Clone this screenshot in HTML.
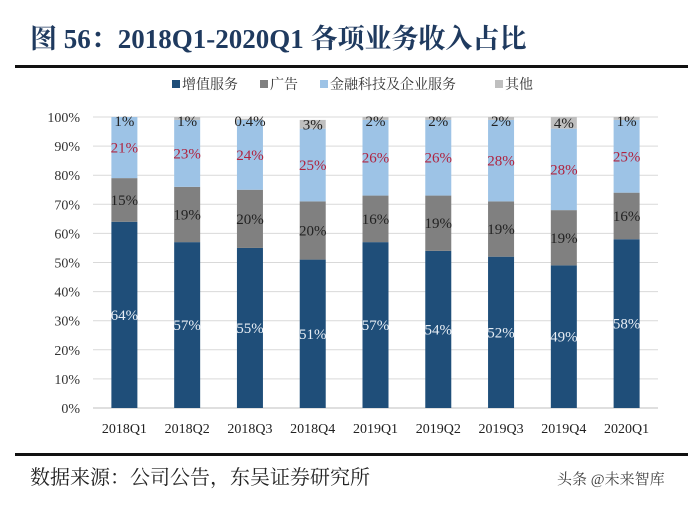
<!DOCTYPE html>
<html><head><meta charset="utf-8">
<style>
body{margin:0;background:#fff;width:700px;height:503px;overflow:hidden;font-family:"Liberation Serif","Noto Serif CJK SC",serif;}
svg text{font-family:"Liberation Serif","Noto Serif CJK SC",serif;}
</style></head>
<body>
<svg id="c" width="700" height="503" xmlns="http://www.w3.org/2000/svg">
<text x="30" y="48" font-size="27" font-weight="bold" fill="#1f3a5f">图 56：2018Q1-2020Q1 各项业务收入占比</text>
<rect x="15" y="65" width="673" height="3" fill="#111"/>
<g id="legend" font-size="14" fill="#333">
<rect x="172" y="80" width="8" height="8" fill="#1f4e79"/><text x="182" y="89">增值服务</text>
<rect x="260" y="80" width="8" height="8" fill="#808080"/><text x="270" y="89">广告</text>
<rect x="320" y="80" width="8" height="8" fill="#9dc3e6"/><text x="330" y="89">金融科技及企业服务</text>
<rect x="495" y="80" width="8" height="8" fill="#bfbfbf"/><text x="505" y="89">其他</text>
</g>
<g id="grid"></g><g id="bars"></g><g id="labels"></g>
<rect x="15" y="453" width="673" height="3" fill="#111"/>
<text x="30" y="484" font-size="20" fill="#222">数据来源：公司公告，东吴证券研究所</text>
<text x="557" y="484" font-size="15" fill="#444" font-family="Liberation Sans, Noto Sans CJK SC, sans-serif">头条 @未来智库</text>
</svg>
<script>
const categories=["2018Q1","2018Q2","2018Q3","2018Q4","2019Q1","2019Q2","2019Q3","2019Q4","2020Q1"];
const valueAdded=[64,57,55,51,57,54,52,49,58];
const ads=[15,19,20,20,16,19,19,19,16];
const fintech=[21,23,24,25,26,26,28,28,25];
const other=[1,1,0.4,3,2,2,2,4,1];
const yTicks=[0,10,20,30,40,50,60,70,80,90,100];
const NS="http://www.w3.org/2000/svg";
const x0=93,x1=658,yB=408,yT=117;
const step=(x1-x0)/categories.length;
const xc=i=>x0+step*(i+0.5);
const y=v=>yB-(yB-yT)*Math.min(v,100)/100;
function mk(t,a,p){const e=document.createElementNS(NS,t);for(const k in a)e.setAttribute(k,a[k]);p.appendChild(e);return e;}
const G=document.getElementById('grid'),B=document.getElementById('bars'),L=document.getElementById('labels');
yTicks.forEach(v=>{
 const l=mk('line',{x1:x0,x2:x1,y1:y(v),y2:y(v),stroke:'#d9d9d9','stroke-width':1},G);
 
 
 const t=mk('text',{x:80,y:y(v)+5,'text-anchor':'end','font-size':14,fill:'#333'},G);
 t.textContent=v+'%';
 
 
});
const series=[[valueAdded,'#1f4e79','#e8eef5','value-added'],[ads,'#808080','#222','ads'],[fintech,'#9dc3e6','#b0233f','fintech'],[other,'#bfbfbf','#222','other']];
const bw=26;
categories.forEach((c,i)=>{
 let cum=0;
 series.forEach(([arr,col,lc,nm],si)=>{
  const v=arr[i];const top=y(cum+v),bot=y(cum);
  const r=mk('rect',{x:xc(i)-bw/2,y:top,width:bw,height:Math.max(0,bot-top),fill:col},B);
  
  
  let ly=(top+bot)/2+5;
  if(si===3) ly=Math.max(y(100)+9,ly);
  const t=mk('text',{x:xc(i),y:ly,'text-anchor':'middle','font-size':15,fill:lc},L);
  t.textContent=v+'%';
  
  
  cum+=v;
 });
 const t=mk('text',{x:xc(i),y:433,'text-anchor':'middle','font-size':14,fill:'#222'},L);
 t.textContent=c;
 
 
});
const ax=mk('line',{x1:x0,x2:x1,y1:yB,y2:yB,stroke:'#bfbfbf','stroke-width':1},G);


</script>
</body></html>
